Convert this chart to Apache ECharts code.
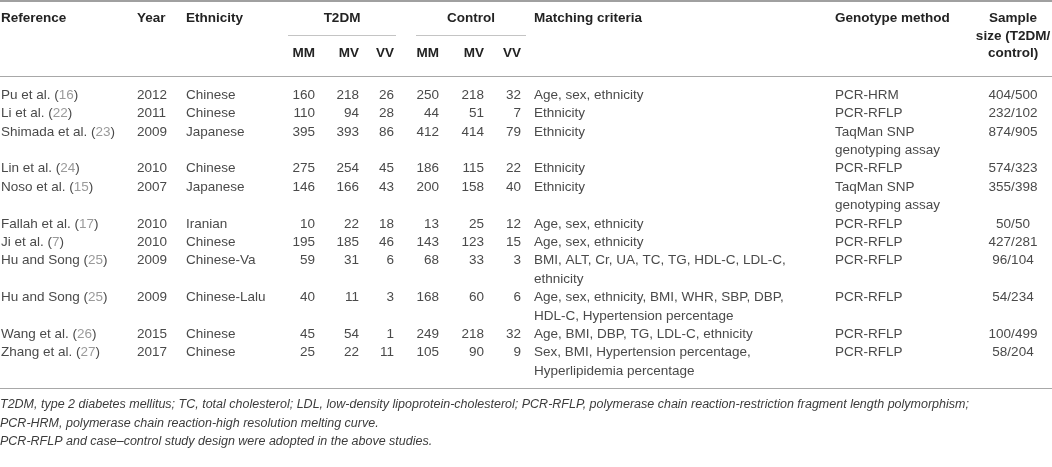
<!DOCTYPE html>
<html>
<head>
<meta charset="utf-8">
<script src="https://cdn.jsdelivr.net/npm/echarts@6/dist/echarts.min.js"></script>
<style>
  html, body { margin: 0; padding: 0; background: #fff; }
  #chart { width: 1052px; height: 467px; }
</style>
</head>
<body>
<div id="chart"></div>
<script>
// 表格数据
const references = ['Pu et al.', 'Li et al.', 'Shimada et al.', 'Lin et al.', 'Noso et al.', 'Fallah et al.',
  'Ji et al.', 'Hu and Song', 'Hu and Song', 'Wang et al.', 'Zhang et al.'];
const refNums = ['16', '22', '23', '24', '15', '17', '7', '25', '25', '26', '27'];
const years = ['2012', '2011', '2009', '2010', '2007', '2010', '2010', '2009', '2009', '2015', '2017'];
const ethnicities = ['Chinese', 'Chinese', 'Japanese', 'Chinese', 'Japanese', 'Iranian', 'Chinese',
  'Chinese-Va', 'Chinese-Lalu', 'Chinese', 'Chinese'];
const t2dmMM = [160, 110, 395, 275, 146, 10, 195, 59, 40, 45, 25];
const t2dmMV = [218, 94, 393, 254, 166, 22, 185, 31, 11, 54, 22];
const t2dmVV = [26, 28, 86, 45, 43, 18, 46, 6, 3, 1, 11];
const ctrlMM = [250, 44, 412, 186, 200, 13, 143, 68, 168, 249, 105];
const ctrlMV = [218, 51, 414, 115, 158, 25, 123, 33, 60, 218, 90];
const ctrlVV = [32, 7, 79, 22, 40, 12, 15, 3, 6, 32, 9];
const matching = [
  ['Age, sex, ethnicity'], ['Ethnicity'], ['Ethnicity'], ['Ethnicity'], ['Ethnicity'],
  ['Age, sex, ethnicity'], ['Age, sex, ethnicity'],
  ['BMI, ALT, Cr, UA, TC, TG, HDL-C, LDL-C,', 'ethnicity'],
  ['Age, sex, ethnicity, BMI, WHR, SBP, DBP,', 'HDL-C, Hypertension percentage'],
  ['Age, BMI, DBP, TG, LDL-C, ethnicity'],
  ['Sex, BMI, Hypertension percentage,', 'Hyperlipidemia percentage']
];
const methods = [
  ['PCR-HRM'], ['PCR-RFLP'], ['TaqMan SNP', 'genotyping assay'], ['PCR-RFLP'],
  ['TaqMan SNP', 'genotyping assay'], ['PCR-RFLP'], ['PCR-RFLP'], ['PCR-RFLP'],
  ['PCR-RFLP'], ['PCR-RFLP'], ['PCR-RFLP']
];
const sampleSizes = ['404/500', '232/102', '874/905', '574/323', '355/398', '50/50', '427/281',
  '96/104', '54/234', '100/499', '58/204'];

const headers = ['Reference', 'Year', 'Ethnicity', 'Matching criteria', 'Genotype method'];
const groupHeaders = ['T2DM', 'Control'];
const genotypes = ['MM', 'MV', 'VV'];
const sampleHeader = ['Sample', 'size (T2DM/', 'control)'];
const footnotes = [
  'T2DM, type 2 diabetes mellitus; TC, total cholesterol; LDL, low-density lipoprotein-cholesterol; PCR-RFLP, polymerase chain reaction-restriction fragment length polymorphism;',
  'PCR-HRM, polymerase chain reaction-high resolution melting curve.',
  'PCR-RFLP and case\u2013control study design were adopted in the above studies.'
];

// 版面
const FONT = '"Liberation Sans", Arial, sans-serif';
const BODY = '13.5px ' + FONT;
const BOLD = 'bold 13.5px ' + FONT;
const TEXT = '#4a4a4a';
const HEAD = '#232323';
const LEFT = [1, 137, 186, 534, 835];          // Reference, Year, Ethnicity, Matching, Genotype
const NUM_RIGHT = [315, 359, 394, 439, 484, 521];
const GROUP_SPAN = [[288, 396], [416, 526]];
const SAMPLE_X = 1013;
const numCols = [t2dmMM, t2dmMV, t2dmVV, ctrlMM, ctrlMV, ctrlVV];

// 把每个单元格排到行上
const cells = [];
let line = 0;
references.forEach((ref, i) => {
  cells.push({ x: LEFT[0], line, align: 'left', text: `{n|${ref} (}{r|${refNums[i]}}{n|)}` });
  cells.push({ x: LEFT[1], line, align: 'left', text: years[i] });
  cells.push({ x: LEFT[2], line, align: 'left', text: ethnicities[i] });
  numCols.forEach((col, k) => cells.push({ x: NUM_RIGHT[k], line, align: 'right', text: String(col[i]) }));
  matching[i].forEach((t, k) => cells.push({ x: LEFT[3], line: line + k, align: 'left', text: t }));
  methods[i].forEach((t, k) => cells.push({ x: LEFT[4], line: line + k, align: 'left', text: t }));
  cells.push({ x: SAMPLE_X, line, align: 'center', text: sampleSizes[i] });
  line += Math.max(matching[i].length, methods[i].length);
});
const lineCats = Array.from({ length: line }, (_, i) => String(i));

function txt(x, y, text, font, align, fill) {
  return {
    type: 'text', x, y, silent: true,
    style: { text, font, fill: fill || HEAD, textAlign: align || 'left', textVerticalAlign: 'middle' }
  };
}
function rule(x1, x2, y, w, c) {
  return { type: 'line', silent: true, shape: { x1, y1: y, x2, y2: y }, style: { stroke: c, lineWidth: w } };
}

const graphics = [
  rule(0, 1052, 1, 2, '#a0a0a0'),
  rule(0, 1052, 76.5, 1.2, '#a8a8a8'),
  rule(0, 1052, 388.5, 1.2, '#a8a8a8'),
  txt(LEFT[0], 18, headers[0], BOLD),
  txt(LEFT[1], 18, headers[1], BOLD),
  txt(LEFT[2], 18, headers[2], BOLD),
  txt(LEFT[3], 18, headers[3], BOLD),
  txt(LEFT[4], 18, headers[4], BOLD)
];
groupHeaders.forEach((g, k) => {
  const [a, b] = GROUP_SPAN[k];
  graphics.push(txt((a + b) / 2, 18, g, BOLD, 'center'));
  graphics.push(rule(a, b, 35.5, 1, '#c4c4c4'));
  genotypes.forEach((gt, j) => graphics.push(txt(NUM_RIGHT[k * 3 + j], 53, gt, BOLD, 'right')));
});
sampleHeader.forEach((s, k) => graphics.push(txt(SAMPLE_X, 18 + k * 17.8, s, BOLD, 'center')));
footnotes.forEach((f, k) => graphics.push(txt(0, 405 + k * 18.4, f, 'italic 12.5px ' + FONT, 'left', '#3c3c3c')));

const chart = echarts.init(document.getElementById('chart'));
chart.setOption({
  animation: false,
  grid: { left: 0, right: 0, top: 85.8, height: 294.4 },
  xAxis: { type: 'value', min: 0, max: 1052, show: false },
  yAxis: { type: 'category', data: lineCats, inverse: true, show: false },
  graphic: graphics,
  series: [{
    type: 'custom',
    data: cells.map(c => [c.x, c.line]),
    renderItem(params, api) {
      const c = cells[params.dataIndex];
      const p = api.coord([api.value(0), api.value(1)]);
      return {
        type: 'text',
        x: p[0], y: p[1],
        style: {
          text: c.text, font: BODY, fill: TEXT,
          textAlign: c.align, textVerticalAlign: 'middle',
          rich: {
            n: { fill: TEXT, font: BODY },
            r: { fill: '#9a9a9a', font: BODY }
          }
        }
      };
    }
  }]
});
</script>
</body>
</html>
